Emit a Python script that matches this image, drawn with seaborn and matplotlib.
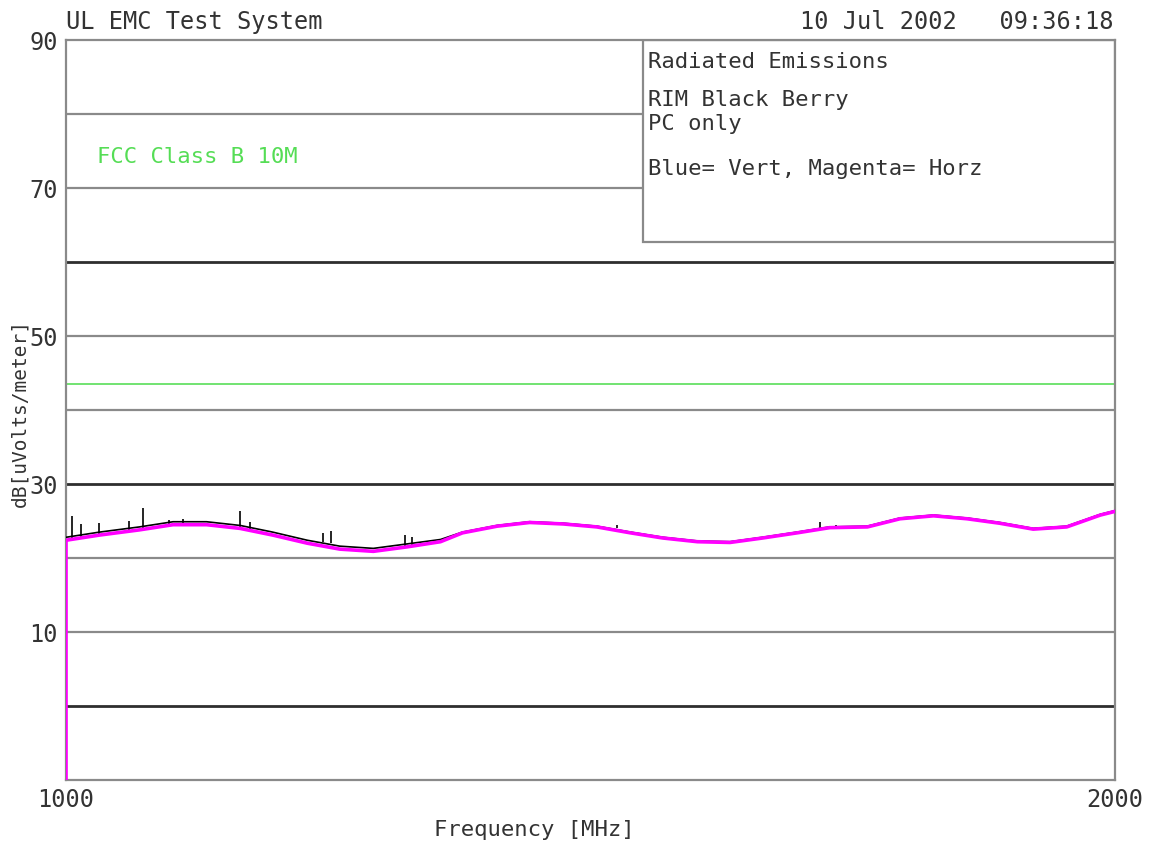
import pandas as pd
import matplotlib.pyplot as plt
import seaborn as sns
from matplotlib.patches import Rectangle

# horizontal polarisation (magenta) trace
freq_mhz = [1000, 1000, 1032, 1070, 1102, 1134, 1166, 1197, 1230, 1261,
            1293, 1325, 1357, 1378, 1411, 1442, 1474, 1506, 1538, 1569,
            1602, 1633, 1664, 1697, 1728, 1764, 1795, 1827, 1859, 1890,
            1922, 1954, 1986, 2000]
horz_db = [-10, 22.4, 23.1, 23.8, 24.5, 24.5, 24.0, 23.1, 22.0, 21.2,
           20.9, 21.5, 22.2, 23.4, 24.3, 24.8, 24.6, 24.2, 23.4, 22.7,
           22.2, 22.1, 22.7, 23.4, 24.1, 24.2, 25.3, 25.7, 25.3, 24.7,
           23.9, 24.2, 25.8, 26.3]

# vertical polarisation (black) trace
vert_freq = freq_mhz[1:]
vert_db = [22.8, 23.5, 24.2, 24.9, 24.9, 24.4, 23.5, 22.4, 21.6, 21.3,
           21.9, 22.5, 23.5, 24.4, 24.9, 24.7, 24.3, 23.5, 22.8, 22.3,
           22.2, 22.8, 23.5, 24.2, 24.3, 25.4, 25.8, 25.4, 24.8, 24.0,
           24.3, 25.9, 26.4]

# spikes in the vertical trace
spike_freq = [1006, 1014, 1031, 1060, 1073, 1098, 1112, 1166, 1175, 1245, 1253, 1323, 1330, 1525, 1719, 1734]
spike_top = [25.7, 24.6, 24.7, 25.0, 26.8, 25.2, 25.3, 26.4, 24.9, 23.4, 23.7, 23.1, 22.8, 24.5, 24.9, 24.4]
spike_base = [22.6, 22.8, 23.1, 23.6, 23.9, 24.4, 24.6, 24.0, 23.9, 22.2, 22.0, 21.6, 21.8, 24.0, 24.0, 24.2]

fcc_limit = 43.5
grid_light = [10, 20, 40, 50, 70, 80]
grid_dark = [0, 30, 60]
ytick_vals = [10, 30, 50, 70, 90]

info_lines = ["Radiated Emissions", "RIM Black Berry", "PC only", "Blue= Vert, Magenta= Horz"]

sns.set_style("white")
plt.rcParams['font.family'] = ['DejaVu Sans Mono', 'DejaVu Sans']
txt = "#333333"

fig = plt.figure(figsize=(11.51, 8.5), dpi=100)
ax = fig.add_axes([66/1151, 1 - 780/850, (1115 - 66)/1151, (780 - 40)/850])

for g in grid_light:
    ax.axhline(g, color="#8a8a8a", lw=1.6, zorder=1)
for g in grid_dark:
    ax.axhline(g, color="#2e2e2e", lw=2.0, zorder=1)

# info box covers the grid
ax.add_patch(Rectangle((1550, 62.7), 450, 27.3, facecolor="white",
                       edgecolor="#8a8a8a", lw=1.6, zorder=2))
ys = [87.0, 81.9, 78.6, 72.6]
for s, yy in zip(info_lines, ys):
    ax.text(1555, yy, s, fontsize=16, color=txt, va="center", ha="left", zorder=3)

ax.axhline(fcc_limit, color="#66e066", lw=1.3, zorder=2)
ax.text(1030, 74.2, "FCC Class B 10M", fontsize=16, color="#55dd55", va="center", ha="left")

sns.lineplot(x=vert_freq, y=vert_db, ax=ax, color="black", lw=1.2,
             estimator=None, sort=False, zorder=3)
ax.vlines(spike_freq, spike_base, spike_top, color="black", lw=1.2, zorder=3)
sns.lineplot(x=freq_mhz, y=horz_db, ax=ax, color="#ff00ff", lw=2.6,
             estimator=None, sort=False, zorder=4)

ax.set_xlim(1000, 2000)
ax.set_ylim(-10, 90)
ax.set_yticks(ytick_vals)
ax.set_yticklabels([str(v) for v in ytick_vals], fontsize=17, color=txt)
ax.set_xticks([1000, 2000])
ax.set_xticklabels(["1000", "2000"], fontsize=17, color=txt)
ax.tick_params(length=0, pad=6)
ax.set_xlabel("")
ax.set_ylabel("")
for sp in ax.spines.values():
    sp.set_color("#8a8a8a")
    sp.set_linewidth(1.6)
    sp.set_visible(True)

fig.text(66/1151, 1 - 22/850, "UL EMC Test System", fontsize=17, color=txt, va="center", ha="left")
fig.text(1113/1151, 1 - 22/850, "10 Jul 2002   09:36:18", fontsize=17, color=txt, va="center", ha="right")
fig.text(534/1151, 1 - 830/850, "Frequency [MHz]", fontsize=16, color=txt, va="center", ha="center")
fig.text(20/1151, 1 - 413/850, "dB[uVolts/meter]", fontsize=14, color=txt, va="center", ha="center", rotation=90)

fig.savefig("out.png", dpi=100)
